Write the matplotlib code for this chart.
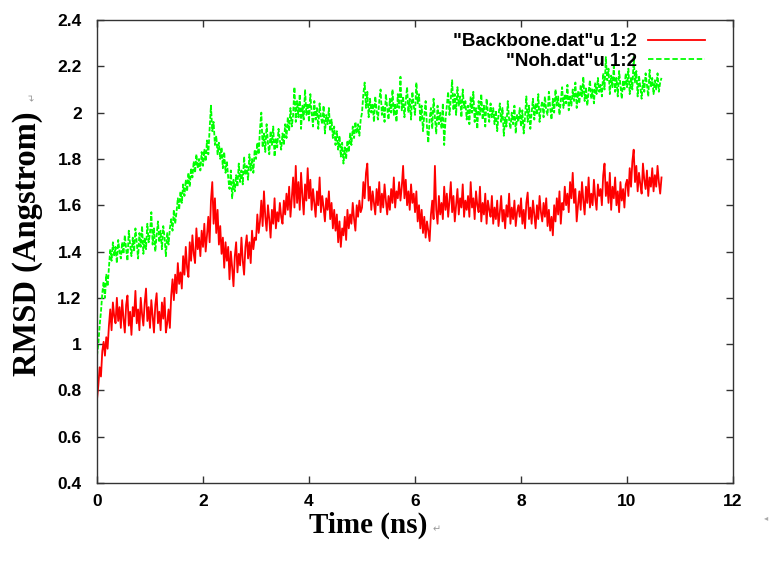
"""RMSD of backbone and heavy atoms (Noh) over a ~10.7 ns trajectory, gnuplot look."""
import matplotlib

matplotlib.use("Agg")
import matplotlib.pyplot as plt
import numpy as np
from matplotlib.ticker import FormatStrFormatter, MultipleLocator

TIME_STEP_NS = 0.025  # sampling interval of the traces below

# RMSD (Angstrom), one value every TIME_STEP_NS from t = 0; one row = 0.5 ns
BACKBONE = [
    0.76, 0.82, 0.90, 0.86, 0.97, 1.01, 0.95, 1.03, 0.98, 1.08, 1.15, 1.06, 1.18, 1.12, 1.09, 1.20, 1.10, 1.16, 1.07, 1.19,
    1.11, 1.05, 1.17, 1.21, 1.08, 1.14, 1.04, 1.16, 1.12, 1.23, 1.09, 1.15, 1.06, 1.20, 1.13, 1.08, 1.18, 1.24, 1.10, 1.16,
    1.07, 1.19, 1.12, 1.05, 1.17, 1.22, 1.09, 1.14, 1.06, 1.18, 1.11, 1.20, 1.05, 1.09, 1.15, 1.07, 1.21, 1.28, 1.19, 1.30,
    1.22, 1.35, 1.26, 1.31, 1.24, 1.38, 1.30, 1.42, 1.33, 1.29, 1.44, 1.36, 1.47, 1.39, 1.35, 1.50, 1.41, 1.46, 1.38, 1.49,
    1.42, 1.52, 1.40, 1.47, 1.55, 1.44, 1.62, 1.70, 1.52, 1.63, 1.48, 1.58, 1.43, 1.51, 1.39, 1.46, 1.33, 1.44, 1.36, 1.42,
    1.28, 1.40, 1.33, 1.25, 1.38, 1.44, 1.31, 1.39, 1.34, 1.46, 1.36, 1.30, 1.42, 1.47, 1.37, 1.44, 1.35, 1.49, 1.41, 1.46,
    1.45, 1.56, 1.48, 1.53, 1.62, 1.51, 1.66, 1.55, 1.49, 1.60, 1.54, 1.46, 1.58, 1.52, 1.63, 1.50, 1.57, 1.53, 1.61, 1.55,
    1.52, 1.62, 1.56, 1.65, 1.58, 1.68, 1.55, 1.63, 1.72, 1.59, 1.77, 1.61, 1.70, 1.58, 1.74, 1.64, 1.56, 1.69, 1.62, 1.76,
    1.63, 1.71, 1.58, 1.67, 1.61, 1.55, 1.66, 1.60, 1.72, 1.57, 1.64, 1.59, 1.53, 1.63, 1.58, 1.66, 1.54, 1.61, 1.50, 1.58,
    1.49, 1.56, 1.44, 1.53, 1.42, 1.50, 1.47, 1.55, 1.45, 1.58, 1.50, 1.56, 1.52, 1.61, 1.54, 1.49, 1.60, 1.55, 1.62, 1.57,
    1.59, 1.70, 1.63, 1.74, 1.78, 1.62, 1.68, 1.58, 1.66, 1.61, 1.56, 1.67, 1.60, 1.70, 1.57, 1.65, 1.59, 1.69, 1.62, 1.56,
    1.64, 1.58, 1.67, 1.61, 1.72, 1.59, 1.66, 1.63, 1.70, 1.62, 1.68, 1.77, 1.63, 1.71, 1.60, 1.66, 1.58, 1.69, 1.61, 1.65,
    1.57, 1.66, 1.53, 1.60, 1.50, 1.58, 1.48, 1.55, 1.46, 1.53, 1.49, 1.445, 1.56, 1.62, 1.54, 1.77, 1.58, 1.52, 1.64, 1.56,
    1.61, 1.54, 1.68, 1.58, 1.65, 1.55, 1.62, 1.70, 1.57, 1.64, 1.53, 1.60, 1.67, 1.56, 1.63, 1.59, 1.69, 1.55, 1.62, 1.58,
    1.64, 1.55, 1.70, 1.59, 1.63, 1.54, 1.66, 1.60, 1.57, 1.68, 1.53, 1.61, 1.56, 1.65, 1.52, 1.62, 1.58, 1.55, 1.64, 1.52,
    1.59, 1.54, 1.62, 1.51, 1.57, 1.64, 1.53, 1.58, 1.50, 1.60, 1.55, 1.65, 1.52, 1.59, 1.54, 1.62, 1.51, 1.57, 1.60, 1.55,
    1.63, 1.52, 1.58, 1.50, 1.61, 1.655, 1.54, 1.59, 1.52, 1.62, 1.56, 1.50, 1.60, 1.54, 1.64, 1.57, 1.53, 1.61, 1.55, 1.63,
    1.51, 1.58, 1.49, 1.55, 1.47, 1.60, 1.53, 1.63, 1.56, 1.66, 1.52, 1.61, 1.58, 1.68, 1.60, 1.65, 1.57, 1.70, 1.63, 1.74,
    1.61, 1.67, 1.53, 1.60, 1.66, 1.58, 1.70, 1.62, 1.56, 1.68, 1.61, 1.72, 1.59, 1.65, 1.60, 1.71, 1.63, 1.58, 1.69, 1.64,
    1.67, 1.60, 1.73, 1.78, 1.64, 1.70, 1.61, 1.74, 1.58, 1.68, 1.63, 1.72, 1.60, 1.66, 1.57, 1.70, 1.62, 1.67, 1.59, 1.69,
    1.71, 1.64, 1.76, 1.68, 1.79, 1.84, 1.70, 1.77, 1.66, 1.74, 1.69, 1.65, 1.78, 1.71, 1.67, 1.75, 1.64, 1.72, 1.68, 1.76,
    1.66, 1.73, 1.68, 1.77, 1.70, 1.65, 1.72,
]
NOH = [
    0.95, 1.00, 1.08, 1.14, 1.22, 1.27, 1.20, 1.30, 1.25, 1.33, 1.41, 1.36, 1.44, 1.38, 1.42, 1.35, 1.45, 1.40, 1.37, 1.44,
    1.39, 1.47, 1.41, 1.36, 1.49, 1.43, 1.38, 1.46, 1.40, 1.50, 1.44, 1.37, 1.48, 1.42, 1.51, 1.39, 1.46, 1.41, 1.52, 1.44,
    1.48, 1.57, 1.43, 1.50, 1.40, 1.47, 1.53, 1.44, 1.49, 1.41, 1.51, 1.46, 1.38, 1.48, 1.43, 1.50, 1.54, 1.49, 1.58, 1.52,
    1.57, 1.63, 1.58, 1.66, 1.61, 1.69, 1.64, 1.71, 1.66, 1.74, 1.68, 1.76, 1.72, 1.79, 1.74, 1.82, 1.76, 1.80, 1.75, 1.83,
    1.77, 1.84, 1.79, 1.88, 1.82, 1.93, 2.03, 1.92, 1.96, 1.86, 1.90, 1.82, 1.87, 1.80, 1.85, 1.76, 1.83, 1.74, 1.79, 1.72,
    1.67, 1.75, 1.63, 1.71, 1.66, 1.73, 1.68, 1.78, 1.70, 1.75, 1.69, 1.81, 1.73, 1.77, 1.71, 1.82, 1.75, 1.80, 1.74, 1.84,
    1.80, 1.87, 1.82, 1.93, 2.00, 1.85, 1.91, 1.83, 1.95, 1.87, 1.82, 1.92, 1.86, 1.94, 1.81, 1.89, 1.85, 1.93, 1.88, 1.84,
    1.91, 1.86, 1.95, 1.89, 1.98, 1.92, 2.02, 1.94, 1.99, 2.11, 1.96, 2.05, 1.98, 2.08, 1.93, 2.03, 1.97, 2.10, 1.99, 2.04,
    1.96, 2.08, 2.00, 1.94, 2.05, 1.97, 2.02, 1.93, 2.04, 1.98, 1.95, 2.03, 1.91, 1.99, 1.95, 2.02, 1.92, 1.97, 1.89, 1.94,
    1.86, 1.92, 1.84, 1.90, 1.81, 1.87, 1.78, 1.85, 1.80, 1.88, 1.83, 1.91, 1.86, 1.94, 1.89, 1.96, 1.91, 1.95, 1.90, 1.97,
    2.00, 2.08, 2.13, 2.02, 2.09, 1.98, 2.06, 2.00, 2.04, 1.96, 2.07, 2.01, 1.97, 2.05, 2.10, 1.99, 2.03, 1.96, 2.08, 2.02,
    1.97, 2.06, 2.00, 2.10, 1.99, 2.04, 1.96, 2.08, 2.02, 2.155, 2.01, 2.07, 1.98, 2.05, 2.11, 2.00, 2.06, 1.97, 2.09, 2.03,
    1.99, 2.13, 2.04, 2.08, 1.96, 2.03, 1.92, 1.99, 2.05, 1.94, 1.87, 1.97, 2.02, 1.93, 2.06, 1.98, 1.91, 2.03, 1.95, 2.00,
    1.93, 2.04, 1.86, 1.97, 2.03, 2.09, 1.99, 2.06, 2.14, 2.01, 2.08, 1.99, 2.11, 2.03, 2.07, 1.98, 2.10, 2.02, 2.05, 1.97,
    2.03, 1.95, 2.07, 2.00, 2.09, 1.96, 2.02, 1.93, 2.05, 1.99, 2.08, 1.97, 2.03, 1.94, 2.06, 2.00, 1.96, 2.04, 1.98, 2.02,
    1.95, 2.01, 1.92, 1.99, 2.04, 1.96, 2.02, 1.90, 1.98, 1.94, 2.05, 1.97, 1.93, 2.00, 1.95, 2.03, 1.91, 1.99, 1.96, 2.02,
    1.94, 2.01, 1.91, 1.98, 2.07, 1.96, 2.03, 1.93, 2.00, 2.06, 1.97, 2.04, 1.99, 2.08, 1.96, 2.02, 2.05, 1.98, 2.07, 2.01,
    1.99, 2.09, 2.02, 1.97, 2.06, 2.00, 2.10, 2.03, 2.07, 1.99, 2.05, 2.11, 2.02, 2.08, 2.04, 2.12, 2.01, 2.07, 2.03, 2.10,
    2.05, 2.13, 2.02, 2.09, 2.04, 2.12, 2.07, 2.155, 2.05, 2.11, 2.03, 2.09, 2.14, 2.06, 2.10, 2.04, 2.13, 2.08, 2.15, 2.09,
    2.12, 2.07, 2.17, 2.10, 2.24, 2.14, 2.19, 2.08, 2.16, 2.11, 2.20, 2.09, 2.15, 2.07, 2.18, 2.12, 2.06, 2.14, 2.10, 2.17,
    2.11, 2.19, 2.08, 2.15, 2.10, 2.24, 2.13, 2.18, 2.07, 2.16, 2.11, 2.06, 2.14, 2.09, 2.17, 2.12, 2.07, 2.185, 2.11, 2.15,
    2.08, 2.14, 2.10, 2.17, 2.09, 2.13, 2.15,
]
LABELS = ['"Backbone.dat"u 1:2', '"Noh.dat"u 1:2']

SANS = ["Liberation Sans", "DejaVu Sans"]
SERIF = ["Liberation Serif", "DejaVu Serif"]


def main() -> None:
    t_bb = np.arange(len(BACKBONE)) * TIME_STEP_NS
    t_noh = np.arange(len(NOH)) * TIME_STEP_NS

    fig = plt.figure(figsize=(7.71, 5.61), dpi=100)
    ax = fig.add_axes([0.1258, 0.139, 0.825, 0.8253])

    ax.plot(t_bb, BACKBONE, color="#ff0000", lw=1.3, label=LABELS[0])
    ax.plot(t_noh, NOH, color="#00ff00", lw=1.3, ls=(0, (2.5, 1)), label=LABELS[1])

    ax.set_xlim(0, 12)
    ax.set_ylim(0.4, 2.4)
    ax.xaxis.set_major_locator(MultipleLocator(2))
    ax.yaxis.set_major_locator(MultipleLocator(0.2))
    ax.yaxis.set_major_formatter(FormatStrFormatter("%g"))
    ax.tick_params(direction="in", length=5, width=1, top=True, right=True,
                   labelsize=12.5, color="#333333")
    ax.tick_params(axis="y", pad=11)
    ax.tick_params(axis="x", pad=8)
    for lab in ax.get_xticklabels() + ax.get_yticklabels():
        lab.set_fontfamily(SANS)
        lab.set_fontweight("bold")
    for sp in ax.spines.values():
        sp.set_color("#333333")
        sp.set_linewidth(1.0)

    # gnuplot key: text first, sample line to its right
    leg = ax.legend(loc="upper right", bbox_to_anchor=(0.982, 1.008), markerfirst=False,
                    frameon=False, handlelength=3.0, handletextpad=0.6, labelspacing=0.12,
                    prop={"family": SANS, "weight": "bold", "size": 13.5})
    for line in leg.get_lines():
        line.set_linewidth(1.3)
        line.set_linestyle("-" if line.get_color() == "#ff0000" else (0, (3, 1.5)))
    for txt in leg.get_texts():
        txt.set_ha("right")

    fig.text(0.477, 0.064, "Time (ns)", family=SERIF, weight="bold", fontsize=21,
             ha="center", va="center")
    fig.text(0.566, 0.057, "\u21b5", fontsize=7, color="#999999", ha="center", va="center")
    fig.text(0.036, 0.565, "RMSD (Angstrom)", family=SERIF, weight="bold", fontsize=23.5,
             rotation=90, ha="center", va="center")
    fig.text(0.043, 0.828, "\u21b5", fontsize=7, color="#999999", rotation=90,
             ha="center", va="center")
    fig.text(0.994, 0.078, "\u25c2", fontsize=6, color="#aaaaaa", ha="center", va="center")

    fig.savefig("out.png", dpi=100)
    plt.close(fig)


if __name__ == "__main__":
    main()
